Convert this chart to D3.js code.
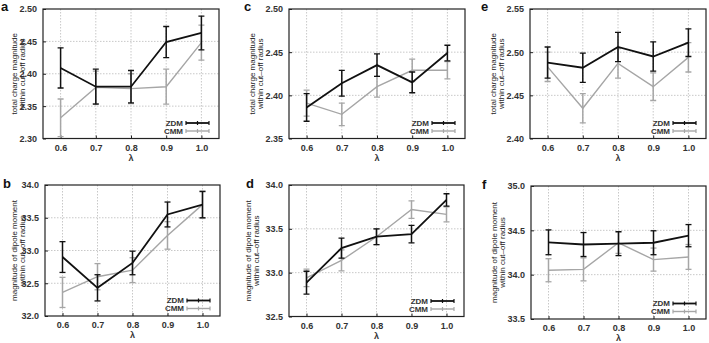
<!DOCTYPE html>
<html>
<head>
<meta charset="utf-8">
<script src="https://cdn.jsdelivr.net/npm/d3@7"></script>
<style>
  body { margin: 0; background: #fff; }
  svg { font-family: "Liberation Sans", Arial, sans-serif; }
  .narrow { font-family: "Liberation Sans Narrow", "Liberation Sans", Arial, sans-serif; }
</style>
</head>
<body>
<svg id="chart" width="709" height="343"></svg>
<script>
// lambda values on the x axis
let lambdas = [0.6, 0.7, 0.8, 0.9, 1.0];

// total charge magnitude within cut-off radius
let zdmA = [2.409, 2.380, 2.380, 2.449, 2.463];
let zdmAErr = [0.031, 0.027, 0.025, 0.024, 0.026];
let cmmA = [2.332, 2.379, 2.377, 2.380, 2.448];
let cmmAErr = [0.029, 0.025, 0.023, 0.027, 0.027];

let zdmC = [2.386, 2.414, 2.435, 2.415, 2.449];
let zdmCErr = [0.016, 0.015, 0.013, 0.012, 0.009];
let cmmC = [2.391, 2.378, 2.410, 2.429, 2.429];
let cmmCErr = [0.015, 0.013, 0.012, 0.013, 0.010];

let zdmE = [2.488, 2.482, 2.506, 2.495, 2.511];
let zdmEErr = [0.018, 0.017, 0.017, 0.017, 0.016];
let cmmE = [2.483, 2.435, 2.487, 2.460, 2.494];
let cmmEErr = [0.017, 0.017, 0.017, 0.016, 0.017];

// magnitude of dipole moment within cut-off radius
let zdmB = [32.90, 32.43, 32.81, 33.55, 33.70];
let zdmBErr = [0.235, 0.20, 0.18, 0.19, 0.20];
let cmmB = [32.36, 32.60, 32.70, 33.23, 33.70];
let cmmBErr = [0.23, 0.20, 0.19, 0.21, 0.21];

let zdmD = [32.886, 33.28, 33.41, 33.44, 33.83];
let zdmDErr = [0.13, 0.115, 0.09, 0.10, 0.07];
let cmmD = [32.94, 33.14, 33.41, 33.72, 33.665];
let cmmDErr = [0.10, 0.12, 0.09, 0.10, 0.085];

let zdmF = [34.365, 34.34, 34.35, 34.36, 34.44];
let zdmFErr = [0.14, 0.135, 0.135, 0.135, 0.125];
let cmmF = [34.05, 34.06, 34.36, 34.17, 34.20];
let cmmFErr = [0.13, 0.13, 0.12, 0.13, 0.14];

let chargeLabel = ["total charge magnitude", "within cut\u2013off radius"];
let dipoleLabel = ["magnitude of dipole moment", "within cut\u2013off radius"];

let panels = [
  { letter: 'a', zdm: zdmA, zdmErr: zdmAErr, cmm: cmmA, cmmErr: cmmAErr,
    yDomain: [2.30, 2.50], yTicks: [2.30, 2.35, 2.40, 2.45, 2.50], fmt: '.2f', label: chargeLabel,
    x0: 43, x1: 219, y0: 9, y1: 138.5, lx: 14, letterX: 1, letterY: 11 },
  { letter: 'c', zdm: zdmC, zdmErr: zdmCErr, cmm: cmmC, cmmErr: cmmCErr,
    yDomain: [2.35, 2.50], yTicks: [2.35, 2.40, 2.45, 2.50], fmt: '.2f', label: chargeLabel,
    x0: 289, x1: 465, y0: 9, y1: 138.5, lx: 252, letterX: 244, letterY: 11 },
  { letter: 'e', zdm: zdmE, zdmErr: zdmEErr, cmm: cmmE, cmmErr: cmmEErr,
    yDomain: [2.40, 2.55], yTicks: [2.40, 2.45, 2.50, 2.55], fmt: '.2f', label: chargeLabel,
    x0: 530, x1: 706, y0: 9, y1: 138.5, lx: 493, letterX: 481, letterY: 11 },
  { letter: 'b', zdm: zdmB, zdmErr: zdmBErr, cmm: cmmB, cmmErr: cmmBErr,
    yDomain: [32.0, 34.0], yTicks: [32.0, 32.5, 33.0, 33.5, 34.0], fmt: '.1f', label: dipoleLabel,
    x0: 45, x1: 220, y0: 185, y1: 316, lx: 14, letterX: 3, letterY: 188 },
  { letter: 'd', zdm: zdmD, zdmErr: zdmDErr, cmm: cmmD, cmmErr: cmmDErr,
    yDomain: [32.5, 34.0], yTicks: [32.5, 33.0, 33.5, 34.0], fmt: '.1f', label: dipoleLabel,
    x0: 289, x1: 464, y0: 185, y1: 316.5, lx: 248, letterX: 246, letterY: 188 },
  { letter: 'f', zdm: zdmF, zdmErr: zdmFErr, cmm: cmmF, cmmErr: cmmFErr,
    yDomain: [33.5, 35.0], yTicks: [33.5, 34.0, 34.5, 35.0], fmt: '.1f', label: dipoleLabel,
    x0: 531, x1: 706, y0: 186, y1: 319, lx: 494, letterX: 482, letterY: 189 }
];

let svg = d3.select('#chart');
let zdmColor = '#111';
let cmmColor = '#a6a6a6';

panels.forEach((p, idx) => {
  let x = d3.scaleLinear().domain([0.55, 1.05]).range([p.x0, p.x1]);
  let y = d3.scaleLinear().domain(p.yDomain).range([p.y1, p.y0]);
  let g = svg.append('g');
  let clipId = 'clip' + idx;

  svg.append('clipPath').attr('id', clipId)
    .append('rect')
    .attr('x', p.x0).attr('y', p.y0)
    .attr('width', p.x1 - p.x0).attr('height', p.y1 - p.y0);

  // grid
  g.selectAll('.vgrid')
    .data(lambdas)
    .enter()
    .append('line')
    .attr('x1', d => x(d)).attr('x2', d => x(d))
    .attr('y1', p.y0).attr('y2', p.y1)
    .style('stroke', '#c8c8c8')
    .style('stroke-width', 1)
    .style('stroke-dasharray', '1.5,1.5');

  g.selectAll('.hgrid')
    .data(p.yTicks.slice(1, -1))
    .enter()
    .append('line')
    .attr('x1', p.x0).attr('x2', p.x1)
    .attr('y1', d => y(d)).attr('y2', d => y(d))
    .style('stroke', '#c8c8c8')
    .style('stroke-width', 1)
    .style('stroke-dasharray', '1.5,1.5');

  // axes
  let xAxis = d3.axisBottom(x).tickValues(lambdas).tickFormat(d3.format('.1f'))
    .tickSizeInner(-3).tickSizeOuter(0).tickPadding(6);
  let yAxis = d3.axisLeft(y).tickValues(p.yTicks).tickFormat(d3.format(p.fmt))
    .tickSizeInner(-3).tickSizeOuter(0).tickPadding(6);

  let xg = g.append('g').attr('transform', `translate(0,${p.y1})`).call(xAxis);
  let yg = g.append('g').attr('transform', `translate(${p.x0},0)`).call(yAxis);
  [xg, yg].forEach(a => {
    a.select('.domain').remove();
    a.attr('font-family', null).attr('font-size', null);
    a.selectAll('text')
      .classed('narrow', true)
      .style('font-size', '9px')
      .style('font-weight', 'bold')
      .style('fill', '#333');
    a.selectAll('line').style('stroke', '#222');
  });

  // frame
  g.append('rect')
    .attr('x', p.x0).attr('y', p.y0)
    .attr('width', p.x1 - p.x0).attr('height', p.y1 - p.y0)
    .style('fill', 'none')
    .style('stroke', '#222')
    .style('stroke-width', 1.2);

  // series
  let series = [
    { name: 'ZDM', vals: p.zdm, errs: p.zdmErr, color: zdmColor, w: 1.8 },
    { name: 'CMM', vals: p.cmm, errs: p.cmmErr, color: cmmColor, w: 1.4 }
  ];
  let line = d3.line().x(d => x(d[0])).y(d => y(d[1]));
  let plot = g.append('g').attr('clip-path', `url(#${clipId})`);

  // draw CMM first so ZDM sits on top
  series.slice().reverse().forEach(s => {
    let pts = lambdas.map((l, i) => [l, s.vals[i], s.errs[i]]);
    plot.append('path')
      .datum(pts)
      .attr('d', line)
      .style('fill', 'none')
      .style('stroke', s.color)
      .style('stroke-width', s.w);

    let eb = plot.selectAll(null)
      .data(pts)
      .enter()
      .append('g');
    eb.append('line')
      .attr('x1', d => x(d[0])).attr('x2', d => x(d[0]))
      .attr('y1', d => y(d[1] - d[2])).attr('y2', d => y(d[1] + d[2]))
      .style('stroke', s.color).style('stroke-width', 1.5);
    eb.append('line')
      .attr('x1', d => x(d[0]) - 3).attr('x2', d => x(d[0]) + 3)
      .attr('y1', d => y(d[1] + d[2])).attr('y2', d => y(d[1] + d[2]))
      .style('stroke', s.color).style('stroke-width', 1.3);
    eb.append('line')
      .attr('x1', d => x(d[0]) - 3).attr('x2', d => x(d[0]) + 3)
      .attr('y1', d => y(d[1] - d[2])).attr('y2', d => y(d[1] - d[2]))
      .style('stroke', s.color).style('stroke-width', 1.3);
  });

  // legend
  series.forEach((s, i) => {
    let ly = p.y1 - 15.5 + i * 8;
    let lx1 = p.x1 - 33, lx2 = p.x1 - 10;
    g.append('text')
      .attr('class', 'narrow')
      .attr('x', lx1 - 3).attr('y', ly).attr('dy', '0.35em')
      .style('text-anchor', 'end')
      .style('font-size', '8px')
      .style('font-weight', 'bold')
      .style('fill', '#333')
      .text(s.name);
    g.append('line')
      .attr('x1', lx1).attr('x2', lx2).attr('y1', ly).attr('y2', ly)
      .style('stroke', s.color).style('stroke-width', s.w);
    [lx1, (lx1 + lx2) / 2, lx2].forEach(cx => {
      g.append('line')
        .attr('x1', cx).attr('x2', cx).attr('y1', ly - 2).attr('y2', ly + 2)
        .style('stroke', s.color).style('stroke-width', 1.2);
    });
  });

  // axis titles
  g.append('text')
    .attr('x', (p.x0 + p.x1) / 2)
    .attr('y', p.y1 + 19)
    .attr('dy', '0.35em')
    .style('text-anchor', 'middle')
    .style('font-size', '9px')
    .style('font-weight', 'bold')
    .style('fill', '#333')
    .text('λ');

  let cy = (p.y0 + p.y1) / 2;
  p.label.forEach((t, i) => {
    let tx = p.lx + i * 8.5;
    g.append('text')
      .attr('transform', `translate(${tx},${cy}) rotate(-90)`)
      .attr('dy', '0.35em')
      .style('text-anchor', 'middle')
      .style('font-size', '8px')
      .style('fill', '#222')
      .text(t);
  });

  // panel letter
  g.append('text')
    .attr('x', p.letterX).attr('y', p.letterY)
    .style('font-size', '13px')
    .style('font-weight', 'bold')
    .style('fill', '#111')
    .text(p.letter);
});
</script>
</body>
</html>
